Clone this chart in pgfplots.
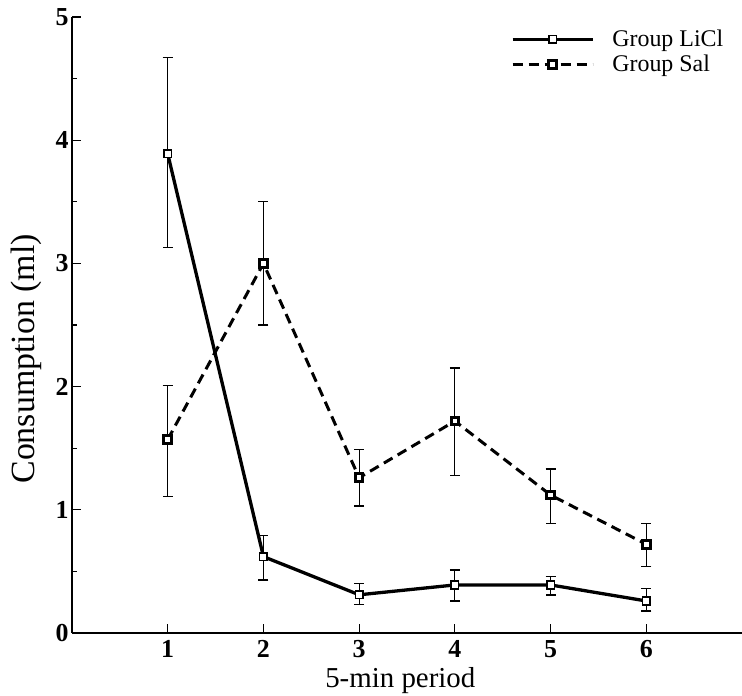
\documentclass[border=0pt]{standalone}
\usepackage{fontspec}
\setmainfont{Liberation Serif}
\usepackage{pgfplots}
\pgfplotsset{compat=1.18}

\pgfplotstableread{
x y ep em
1 3.89 0.78 0.76
2 0.62 0.17 0.19
3 0.31 0.09 0.08
4 0.39 0.12 0.13
5 0.39 0.07 0.08
6 0.26 0.10 0.08
}\licl

\pgfplotstableread{
x y ep em
1 1.57 0.44 0.46
2 3.00 0.50 0.50
3 1.26 0.23 0.23
4 1.72 0.43 0.44
5 1.12 0.21 0.23
6 0.72 0.17 0.18
}\sal

\begin{document}
\begin{tikzpicture}
\begin{axis}[
  name=ax, at={(0,0)}, anchor=south west,
  scale only axis, width=670bp, height=616bp,
  xmin=0, xmax=7, ymin=0, ymax=5,
  axis lines=left, axis line style={-, line width=1.8bp},
  xtick={1,...,6}, ytick={0,...,5}, minor y tick num=1,
  tick align=inside, major tick length=9bp, minor tick length=5bp,
  tick style={line width=1.2bp, black},
  /pgf/number format/assume math mode=true,
  ticklabel style={font=\bfseries\fontsize{26}{26}\selectfont},
  xticklabel style={yshift=-4bp},
  xlabel={5-min period}, ylabel={Consumption (ml)},
  xlabel style={font=\fontsize{29}{29}\selectfont, at={(axis description cs:0.49,-0.078)}, anchor=center},
  ylabel style={font=\fontsize{34}{34}\selectfont, at={(axis description cs:-0.068,0.445)}, anchor=center},
  clip=false,
  legend style={draw=none, fill=none, at={(axis description cs:0.655,0.982)}, anchor=north west,
    font=\fontsize{24}{24}\selectfont, row sep=3bp, inner sep=0pt,
    nodes={inner sep=2bp}},
  legend cell align=left,
  legend image code/.code={\draw[mark repeat=2, mark phase=2, #1] plot coordinates {(0bp,0bp) (40bp,0bp) (80bp,0bp)};},
  legend image post style={xshift=-4bp},
  error bars/error bar style={line width=1.2bp, solid},
  error bars/error mark options={rotate=90, mark size=5bp, line width=1.4bp, solid},
]
\addplot[black, line width=3.3bp, mark=square*, mark size=3.8bp,
  mark options={solid, fill=white, line width=1.6bp},
  error bars/.cd, y dir=both, y explicit]
  table[x=x, y=y, y error plus=ep, y error minus=em] {\licl};
\addlegendentry{\hspace{16bp}Group LiCl}
\addplot[black, line width=3bp, dash pattern=on 10bp off 6bp, mark=square*, mark size=3.8bp,
  mark options={solid, fill=white, line width=3bp},
  error bars/.cd, y dir=both, y explicit]
  table[x=x, y=y, y error plus=ep, y error minus=em] {\sal};
\addlegendentry{\hspace{16bp}Group Sal}
\end{axis}
\pgfresetboundingbox
\path[use as bounding box] (-72bp,-63bp) rectangle (670bp,633bp);
\end{tikzpicture}
\end{document}
